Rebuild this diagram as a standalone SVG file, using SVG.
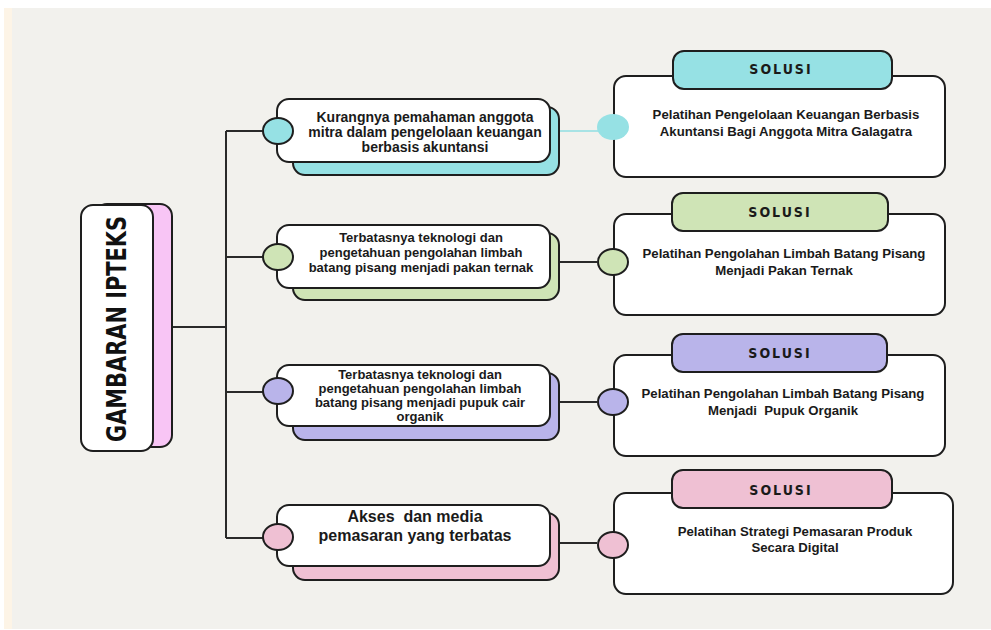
<svg xmlns="http://www.w3.org/2000/svg" width="991" height="630" viewBox="0 0 991 630">
<style>
.bx{fill:#ffffff;stroke:#1e1e1e;stroke-width:2}
.ln{fill:none;stroke:#2a2a2a;stroke-width:2}
.pt{font-family:"Liberation Sans",Arial,sans-serif;font-weight:bold;font-size:14px;fill:#1a1a1a;text-anchor:middle}
.p2{font-family:"Liberation Sans",Arial,sans-serif;font-weight:bold;font-size:13px;fill:#1a1a1a;text-anchor:middle}
.st{font-family:"Liberation Sans",Arial,sans-serif;font-weight:bold;font-size:13.2px;fill:#1a1a1a;text-anchor:middle}
.hd{font-family:"DejaVu Sans Condensed","DejaVu Sans",sans-serif;font-weight:bold;font-size:14px;fill:#1a1a1a;text-anchor:middle;letter-spacing:2px}
.cy{fill:#96e1e4}
.gr{fill:#cfe4b6}
.pu{fill:#b9b4ea}
.pk{fill:#efc0d3}
</style>
<rect x="0" y="0" width="991" height="630" fill="#ffffff"/>
<rect x="4" y="8" width="987" height="621" fill="#fdf4e6"/>
<rect x="12" y="8" width="979" height="621" fill="#f2f1ed"/>

<g id="connectors">
<line class="ln" x1="172" y1="327" x2="226" y2="327"/>
<line class="ln" x1="226" y1="131" x2="226" y2="538"/>
<line class="ln" x1="226" y1="131" x2="264" y2="131"/>
<line class="ln" x1="226" y1="257" x2="264" y2="257"/>
<line class="ln" x1="226" y1="392" x2="264" y2="392"/>
<line class="ln" x1="226" y1="538" x2="264" y2="538"/>
<line x1="559" y1="131" x2="600" y2="131" stroke="#a8e3e5" stroke-width="2"/>
<line class="ln" x1="559" y1="262" x2="597" y2="262"/>
<line class="ln" x1="559" y1="402" x2="597" y2="402"/>
<line class="ln" x1="559" y1="543" x2="597" y2="543"/>
</g>

<g id="title">
<rect x="95" y="204" width="77" height="243" rx="12" fill="#f8c5f5" stroke="#1e1e1e" stroke-width="2"/>
<rect class="bx" x="81" y="205" width="72" height="246" rx="12"/>
<text transform="translate(126,329) rotate(-90)" font-family="DejaVu Sans Condensed,DejaVu Sans,sans-serif" font-weight="bold" font-size="27" fill="#111" text-anchor="middle" textLength="226" lengthAdjust="spacingAndGlyphs">GAMBARAN IPTEKS</text>
</g>

<g id="problem1">
<rect class="cy" x="293" y="107" width="266" height="68" rx="12" stroke="#1e1e1e" stroke-width="2"/>
<rect class="bx" x="277" y="99" width="273" height="63" rx="12"/>
<ellipse class="cy" cx="278" cy="131" rx="15" ry="13" stroke="#1e1e1e" stroke-width="2"/>
<text class="pt"><tspan x="425" y="122">Kurangnya pemahaman anggota</tspan><tspan x="425" y="137">mitra dalam pengelolaan keuangan</tspan><tspan x="425" y="152">berbasis akuntansi</tspan></text>
</g>

<g id="problem2">
<rect class="gr" x="293" y="233" width="266" height="67" rx="12" stroke="#1e1e1e" stroke-width="2"/>
<rect class="bx" x="277" y="225" width="273" height="63" rx="12"/>
<ellipse class="gr" cx="278" cy="257" rx="15" ry="13" stroke="#1e1e1e" stroke-width="2"/>
<text class="p2"><tspan x="421" y="242">Terbatasnya teknologi dan</tspan><tspan x="421" y="257">pengetahuan pengolahan limbah</tspan><tspan x="421" y="272">batang pisang menjadi pakan ternak</tspan></text>
</g>

<g id="problem3">
<rect class="pu" x="293" y="373" width="266" height="67" rx="12" stroke="#1e1e1e" stroke-width="2"/>
<rect class="bx" x="277" y="365" width="273" height="61" rx="12"/>
<ellipse class="pu" cx="278" cy="391" rx="15" ry="13" stroke="#1e1e1e" stroke-width="2"/>
<text class="p2"><tspan x="420" y="379">Terbatasnya teknologi dan</tspan><tspan x="420" y="393">pengetahuan pengolahan limbah</tspan><tspan x="420" y="407">batang pisang menjadi pupuk cair</tspan><tspan x="420" y="421">organik</tspan></text>
</g>

<g id="problem4">
<rect class="pk" x="293" y="513" width="266" height="67" rx="12" stroke="#1e1e1e" stroke-width="2"/>
<rect class="bx" x="277" y="505" width="273" height="61" rx="12"/>
<ellipse class="pk" cx="278" cy="537" rx="15" ry="13" stroke="#1e1e1e" stroke-width="2"/>
<text font-family="Liberation Sans,Arial,sans-serif" font-weight="bold" font-size="16" fill="#1a1a1a" text-anchor="middle"><tspan x="415" y="522" xml:space="preserve">Akses  dan media</tspan><tspan x="415" y="541">pemasaran yang terbatas</tspan></text>
</g>

<g id="solution1">
<rect class="bx" x="614" y="76" width="331" height="101" rx="12"/>
<ellipse class="cy" cx="613" cy="127" rx="16" ry="13"/>
<rect class="cy" x="673" y="51" width="219" height="38" rx="11" stroke="#1e1e1e" stroke-width="2"/>
<text class="hd" x="781" y="74">SOLUSI</text>
<text class="st"><tspan x="786" y="119">Pelatihan Pengelolaan Keuangan Berbasis</tspan><tspan x="786" y="136">Akuntansi Bagi Anggota Mitra Galagatra</tspan></text>
</g>

<g id="solution2">
<rect class="bx" x="614" y="214" width="331" height="101" rx="12"/>
<ellipse class="gr" cx="613" cy="262" rx="15" ry="13" stroke="#1e1e1e" stroke-width="2"/>
<rect class="gr" x="672" y="193" width="216" height="38" rx="11" stroke="#1e1e1e" stroke-width="2"/>
<text class="hd" x="780" y="217">SOLUSI</text>
<text class="st"><tspan x="784" y="258">Pelatihan Pengolahan Limbah Batang Pisang</tspan><tspan x="784" y="275">Menjadi Pakan Ternak</tspan></text>
</g>

<g id="solution3">
<rect class="bx" x="614" y="355" width="331" height="101" rx="12"/>
<ellipse class="pu" cx="613" cy="402" rx="15" ry="13" stroke="#1e1e1e" stroke-width="2"/>
<rect class="pu" x="672" y="334" width="215" height="38" rx="11" stroke="#1e1e1e" stroke-width="2"/>
<text class="hd" x="780" y="358">SOLUSI</text>
<text class="st"><tspan x="783" y="398">Pelatihan Pengolahan Limbah Batang Pisang</tspan><tspan x="783" y="415" xml:space="preserve">Menjadi  Pupuk Organik</tspan></text>
</g>

<g id="solution4">
<rect class="bx" x="614" y="493" width="339" height="101" rx="12"/>
<ellipse class="pk" cx="613" cy="545" rx="15" ry="13" stroke="#1e1e1e" stroke-width="2"/>
<rect class="pk" x="672" y="470" width="220" height="38" rx="11" stroke="#1e1e1e" stroke-width="2"/>
<text class="hd" x="781" y="495">SOLUSI</text>
<text class="st"><tspan x="795" y="536">Pelatihan Strategi Pemasaran Produk</tspan><tspan x="795" y="552">Secara Digital</tspan></text>
</g>
</svg>
